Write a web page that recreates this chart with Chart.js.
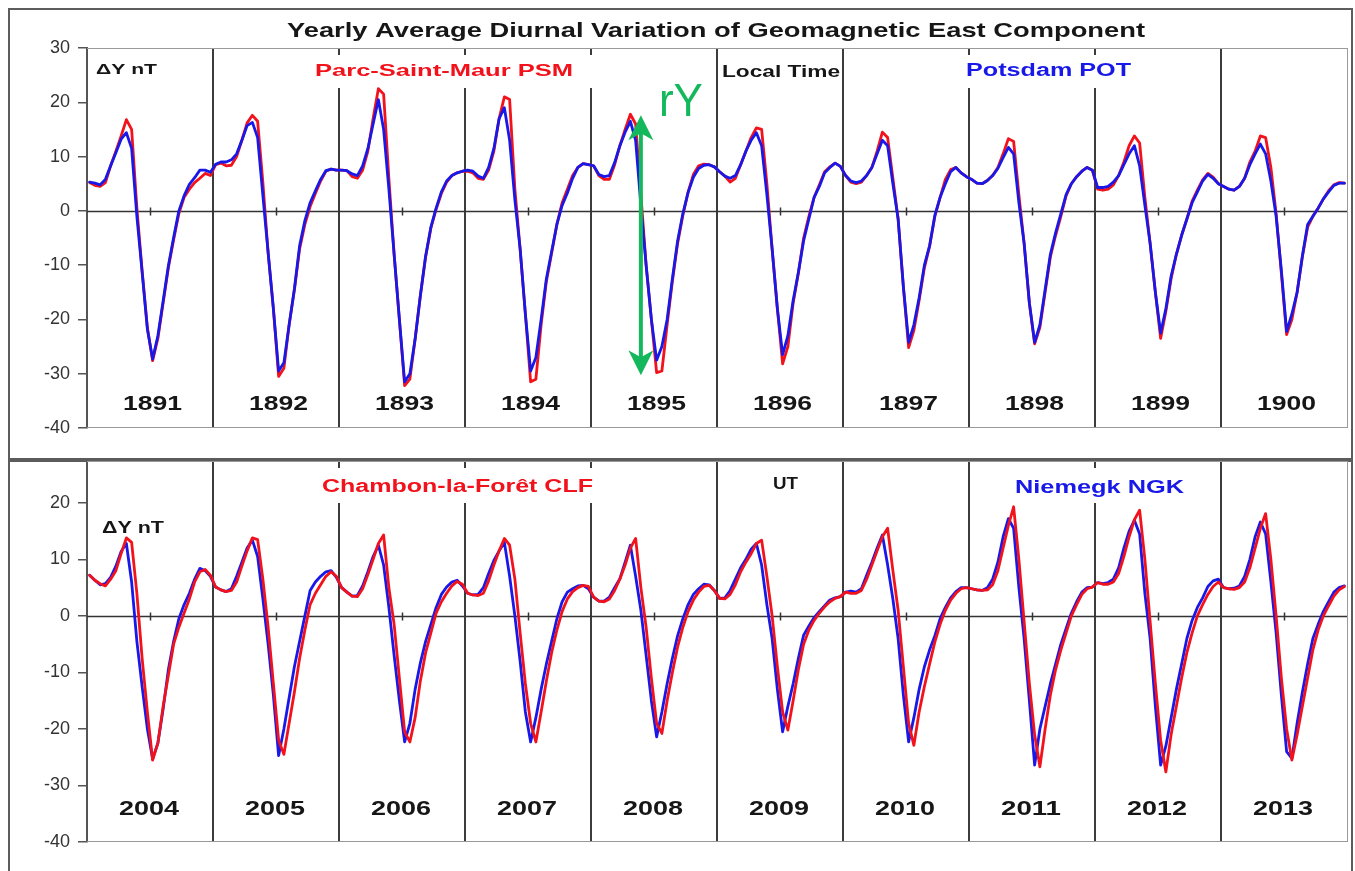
<!DOCTYPE html>
<html>
<head>
<meta charset="utf-8">
<title>Yearly Average Diurnal Variation of Geomagnetic East Component</title>
<script src="https://cdn.jsdelivr.net/npm/chart.js@4.4.1/dist/chart.umd.min.js"></script>
<style>
  html, body { margin: 0; padding: 0; background: #fff; }
  #wrap { position: relative; width: 1355px; height: 871px; overflow: hidden; }
  canvas { position: absolute; left: 0; }
  #topChart { top: 0; }
  #bottomChart { top: 460px; }
</style>
</head>
<body>
<div id="wrap">
  <canvas id="topChart" width="1355" height="460"></canvas>
  <canvas id="bottomChart" width="1355" height="411"></canvas>
</div>
<script>
const FONT = '"Liberation Sans", Arial, Helvetica, sans-serif';
const HOURS = 24;

const yearsTop = [1891, 1892, 1893, 1894, 1895, 1896, 1897, 1898, 1899, 1900];
const yearsBottom = [2004, 2005, 2006, 2007, 2008, 2009, 2010, 2011, 2012, 2013];
const yTicksTop = [-40, -30, -20, -10, 0, 10, 20, 30];
const yTicksBottom = [-40, -30, -20, -10, 0, 10, 20];

// Parc-Saint-Maur PSM, local time, hourly means (nT), one row per year
const psm = [
  5.2, 4.7, 4.5, 5.2, 8.3, 11, 13.8, 16.8, 15, 0.5, -11, -21.5, -27.6, -23.5, -17, -10.5, -5.3, -0.5, 2.5, 4, 5.2, 6, 6.9, 6.5,
  8.5, 8.8, 8.3, 8.4, 10, 13, 16.2, 17.6, 16.5, 5.2, -7.7, -18, -30.5, -29, -21, -14.6, -7, -2.5, 0.8, 3.2, 5.5, 7.3, 7.7, 7.5,
  7.5, 7.4, 6.3, 6.0, 7.5, 11, 17, 22.5, 21.5, 6, -8, -20, -32.2, -31, -23.6, -15.6, -8.5, -3.2, 0.3, 3.2, 5.3, 6.5, 7.0, 7.3,
  7.3, 7.0, 6.0, 5.8, 7.5, 11, 17, 21, 20.5, 4, -7, -19, -31.5, -31, -21, -13, -7.8, -2.5, 1.5, 4.0, 6.5, 8.0, 8.7, 8.5,
  8.3, 6.5, 5.8, 5.8, 8.5, 12, 15, 17.8, 16, 3, -10, -20, -29.8, -29.5, -21, -13, -6, -0.8, 3.5, 6.7, 8.3, 8.6, 8.5, 8.1,
  7.2, 6.4, 5.3, 6.0, 8.5, 11, 13.5, 15.3, 15, 5, -7, -18, -28.2, -25, -17, -11.5, -5, -1, 2.5, 4.8, 7.2, 8.1, 8.8, 8.2,
  6.5, 5.3, 5.0, 5.3, 6.5, 8, 11, 14.5, 13.5, 6, -1.5, -14, -25.2, -22, -16.5, -10.5, -6.5, -1, 2.5, 5.8, 7.6, 8, 7, 6.3,
  5.8, 5.1, 5.0, 5.6, 6.5, 8, 10.5, 13.3, 12.8, 3, -6, -17, -24.5, -21.5, -15, -8.5, -4.5, -1, 2.8, 5, 6.3, 7.3, 8, 7.5,
  4.0, 3.8, 4.0, 4.8, 6.5, 9, 12, 13.8, 12.5, 2.5, -6, -15, -23.5, -18.5, -12.5, -8, -4.5, -1.5, 1.8, 3.8, 5.7, 6.9, 6.2, 5,
  4.5, 4.0, 3.8, 4.5, 6, 9, 11, 13.8, 13.5, 8, -0.5, -11.5, -22.8, -20, -15, -8.5, -3, -1, 0.5, 2.2, 3.7, 4.8, 5.2, 5.1
];

// Potsdam POT, local time
const pot = [
  5.3, 5.1, 4.8, 5.8, 8.3, 10.7, 13.2, 14.4, 11.5, -1, -11.3, -21.8, -27.3, -23, -16.6, -10.1, -4.9, 0, 2.8, 4.9, 6.1, 7.5, 7.5, 7.1,
  8.6, 9.0, 9.0, 9.4, 10.5, 13, 15.7, 16.3, 13.5, 2.8, -7.7, -18, -29.5, -28, -21, -14.4, -6.4, -1.8, 1.5, 3.7, 5.8, 7.4, 7.7, 7.5,
  7.5, 7.4, 6.8, 6.5, 8.3, 11.5, 16, 20.5, 15, 4, -8, -20, -31.5, -30, -23.6, -15.6, -8.3, -3, 0.5, 3.5, 5.5, 6.5, 7.0, 7.3,
  7.5, 7.3, 6.4, 6.0, 8.0, 11.5, 17, 19.0, 13, 2, -7, -19, -29.5, -27, -20, -12.5, -7.5, -2.5, 1.0, 3.3, 6.0, 8.0, 8.7, 8.5,
  8.3, 6.7, 6.3, 6.5, 8.9, 12, 14.5, 16.5, 13, 1, -10, -20, -27.5, -25, -20, -12.5, -5.5, -0.5, 3.4, 6.2, 7.8, 8.4, 8.5, 8.1,
  7.2, 6.4, 6.0, 6.5, 8.5, 11, 13, 14.4, 12, 3, -7, -18, -26.5, -23, -16.5, -11.3, -5.5, -1.5, 2.5, 4.5, 7, 8, 8.8, 8.2,
  6.5, 5.5, 5.2, 5.5, 6.5, 8, 10.5, 13, 12, 5, -1.5, -14, -24.2, -21, -16, -10, -6.4, -0.8, 2.5, 5, 7.2, 8, 7, 6.3,
  5.8, 5.1, 5.0, 5.6, 6.5, 7.8, 9.8, 11.7, 10.5, 1.5, -6, -17, -24.2, -21, -14.5, -8, -4, -0.5, 3, 5, 6.3, 7.3, 8, 7.5,
  4.3, 4.3, 4.5, 5.3, 6.5, 8.5, 10.5, 12, 8.3, 1, -6, -15, -22.5, -18, -12, -8, -4.5, -1.5, 1.5, 3.5, 5.5, 6.7, 6, 5,
  4.5, 4.0, 3.8, 4.5, 6, 8.5, 10.5, 12.3, 10.5, 5.5, -1, -11, -22.2, -19, -15, -8.3, -2.5, -1, 0.5, 2.2, 3.5, 4.7, 5.1, 5.1
];

// Chambon-la-Foret CLF, UT
const clf = [
  7.2, 6.3, 5.7, 5.3, 6.5, 8, 11, 13.8, 13, 4, -7.5, -17, -25.5, -22.5, -16, -10.5, -5, -2, 0.5, 3, 6, 7.8, 8.2, 7.2,
  5.1, 4.6, 4.3, 4.5, 6, 8.8, 11.5, 13.8, 13.5, 6.5, -2, -12, -22, -24.5, -19, -13.5, -7.5, -2.5, 2, 4, 5.5, 7, 7.8, 7,
  5.0, 4.2, 3.5, 3.4, 4.8, 7.3, 10, 12.8, 14.3, 5, -1.5, -11, -20.5, -22.3, -18, -11.5, -6.5, -3, 0.5, 2.5, 4, 5.3, 6.1, 5.6,
  4.0, 3.7, 3.6, 4.0, 6.2, 9, 11.5, 13.7, 12.5, 6.5, -3, -12, -19, -22.3, -17, -11.5, -6.5, -2.5, 0.8, 3, 4.3, 5, 5.4, 5.2,
  3.3, 2.6, 2.5, 3.0, 4.5, 6.5, 9, 12, 13.7, 5, -2, -11, -19, -20.8, -15, -10, -5.5, -2, 0.8, 2.8, 4.2, 5.2, 5.4, 4.5,
  3.1, 3.0, 3.8, 5.5, 7.8, 9.5, 11, 12.8, 13.4, 7, 0, -9, -17, -20.2, -15, -9.5, -5, -2.5, -0.8, 0.5, 1.6, 2.5, 3.1, 3.4,
  4.2, 4.0, 4.0, 4.5, 6.5, 9, 11.5, 14, 15.5, 8, 1, -9, -19, -22.9, -17, -12.5, -8.5, -4.6, -1.5, 1, 2.8, 4, 4.8, 5,
  4.8, 4.6, 4.5, 4.6, 5.5, 8, 12, 16, 19.3, 10, -1, -12, -21, -26.7, -20, -14, -9.5, -6, -3, 0, 2, 3.8, 4.8, 5.1,
  5.9, 5.6, 5.6, 6.0, 7.5, 10.5, 14, 17, 18.7, 10, -1, -12, -22, -27.6, -21, -16, -11, -6.5, -3, 0, 2, 3.8, 5.2, 6,
  5.0, 4.8, 4.7, 5.0, 6, 8.5, 12, 15.5, 18.1, 10, 0, -11, -20, -25.5, -21, -16, -11, -6, -2.5, 0, 1.8, 3.5, 4.6, 5.2
];

// Niemegk NGK, UT
const ngk = [
  7.2, 6.3, 5.5, 5.7, 6.8, 8.8, 11.4, 12.8, 6, -4.5, -12.5, -20, -25.3, -22.5, -16.5, -9.5, -4.5, -0.5, 2, 4, 6.5, 8.4, 8, 7,
  5.1, 4.6, 4.3, 4.8, 7, 9.5, 12, 13.4, 10.5, 3, -5, -14, -24.7, -20, -14.5, -9, -4.5, 0, 4.5, 6, 7, 7.8, 8, 6.8,
  5.0, 4.2, 3.5, 3.6, 5.3, 7.8, 10.5, 12.5, 9, 1.5, -7, -15, -22.3, -19, -13, -8.3, -4.5, -1.5, 1.5, 3.8, 5.1, 6, 6.3, 5.3,
  4.0, 3.7, 3.8, 5.0, 7.5, 9.8, 11.5, 13, 7, 0, -8, -17, -22.3, -18, -13, -8.5, -4.5, -0.5, 2.5, 4.2, 4.8, 5.3, 5.4, 4.8,
  3.3, 2.6, 2.6, 3.3, 5, 6.6, 9.5, 12.5, 7, 1, -7, -15, -21.4, -17, -12, -7.5, -3.5, -0.5, 2, 3.8, 4.8, 5.6, 5.5, 4.5,
  3.1, 3.2, 4.5, 6.5, 8.5, 10, 11.8, 12.8, 9, 2, -4, -13, -20.5, -16, -12, -7.5, -3.4, -1.8, -0.3, 0.8, 1.8, 2.8, 3.2, 3.4,
  4.2, 4.4, 4.2, 4.8, 7.2, 9.5, 12, 14.3, 9, 3, -4, -14, -22.3, -18, -13, -9, -6, -3.5, -0.5, 1.5, 3.2, 4.3, 5, 5,
  4.8, 4.6, 4.5, 5, 6.5, 9.5, 14, 17.2, 15.5, 5, -4, -15, -26.4, -20, -16, -12, -8.5, -5, -2.2, 0.5, 2.5, 4.2, 5, 5.1,
  5.9, 5.7, 5.9, 6.5, 8.5, 12, 15, 16.9, 14.5, 4, -4, -16, -26.4, -23, -18, -13, -8.5, -4, -0.8, 1.5, 3.2, 5.2, 6.2, 6.5,
  5.0, 4.8, 4.9, 5.3, 7, 10, 14, 16.6, 14.5, 6, -3, -14, -24, -25.2, -19, -13.5, -8.5, -4, -1.5, 0.8, 2.5, 4.2, 5, 5.3
];

// green "rY" range marker drawn over 1895 (x in hours, y in nT)
const ryMarker = { hour: 105.5, top: 17.6, bottom: -30.3 };

const RED = 'rgb(242, 18, 28)';
const BLUE = 'rgb(24, 24, 232)';
const GREEN = '#14b85c';
const INK = '#161616';

const toPoints = values => values.map((v, i) => ({ x: i + 0.5, y: v }));

function stretchText(ctx, t) {
  ctx.save();
  ctx.font = `${t.weight || 'bold'} ${t.size}px ${FONT}`;
  const w = ctx.measureText(t.text).width;
  ctx.translate(t.left, t.cy + t.size * 0.36);
  ctx.scale(t.width / w, 1);
  ctx.fillStyle = t.color || INK;
  ctx.textAlign = 'left';
  ctx.textBaseline = 'alphabetic';
  ctx.fillText(t.text, 0, 0);
  ctx.restore();
}

const panelDecor = {
  id: 'panelDecor',
  beforeDraw(chart, args, o) {
    const ctx = chart.ctx, f = o.frame;
    ctx.save();
    ctx.strokeStyle = '#5c5c5c';
    ctx.lineWidth = 2;
    ctx.strokeRect(f.left, f.top, f.right - f.left, f.bottom - f.top);
    ctx.restore();
    if (o.title) stretchText(ctx, o.title);
  },
  beforeDatasetsDraw(chart, args, o) {
    const { ctx, chartArea: a, scales: { x, y } } = chart;
    ctx.save();
    // plot area outline (top / bottom)
    ctx.strokeStyle = '#9a9a9a';
    ctx.lineWidth = 1;
    ctx.beginPath();
    ctx.moveTo(a.left, a.top + 0.5); ctx.lineTo(a.right, a.top + 0.5);
    ctx.moveTo(a.left, a.bottom - 0.5); ctx.lineTo(a.right, a.bottom - 0.5);
    ctx.stroke();

    // zero line with a tick in the middle of every year
    const y0 = Math.round(y.getPixelForValue(0)) + 0.5;
    ctx.strokeStyle = '#333';
    ctx.lineWidth = 1.5;
    ctx.beginPath();
    ctx.moveTo(a.left, y0); ctx.lineTo(a.right, y0);
    o.years.forEach((yr, k) => {
      const xm = Math.round(x.getPixelForValue(k * HOURS + HOURS / 2)) + 0.5;
      ctx.moveTo(xm, y0 - 4); ctx.lineTo(xm, y0 + 4);
    });
    ctx.stroke();
    ctx.restore();

    // station / time labels, some on white boxes that break the year separators
    o.labels.forEach(l => {
      if (l.box) {
        ctx.fillStyle = '#fff';
        ctx.fillRect(l.box[0], l.box[1], l.box[2] - l.box[0], l.box[3] - l.box[1]);
      }
      stretchText(ctx, l);
    });

    // year names
    const yl = o.yearLabel;
    o.years.forEach((yr, k) => {
      const cx = x.getPixelForValue(k * HOURS + HOURS / 2) + yl.dx;
      stretchText(ctx, { text: String(yr), left: cx - yl.width / 2, cy: a.bottom - yl.above, size: yl.size, width: yl.width });
    });
  },
  afterDatasetsDraw(chart, args, o) {
    if (!o.marker) return;
    const { ctx, scales: { x, y } } = chart;
    const m = o.marker;
    const ax = x.getPixelForValue(m.hour);
    const at = y.getPixelForValue(m.top);
    const ab = y.getPixelForValue(m.bottom);
    ctx.save();
    ctx.strokeStyle = GREEN;
    ctx.fillStyle = GREEN;
    ctx.lineWidth = 4;
    ctx.beginPath();
    ctx.moveTo(ax, at + 16); ctx.lineTo(ax, ab - 16);
    ctx.stroke();
    const head = (tipY, dir) => {
      ctx.beginPath();
      ctx.moveTo(ax, tipY);
      ctx.lineTo(ax - 12.5, tipY + dir * 25);
      ctx.lineTo(ax, tipY + dir * 18);
      ctx.lineTo(ax + 12.5, tipY + dir * 25);
      ctx.closePath();
      ctx.fill();
    };
    head(at, 1);
    head(ab, -1);
    ctx.restore();
    stretchText(ctx, { text: 'rY', left: ax + 18, cy: at - 16, size: 46, width: 44, weight: 'normal', color: GREEN });
  }
};

function makePanel(canvasId, cfg) {
  const boundaries = cfg.years.map((yr, k) => k * HOURS).concat(cfg.years.length * HOURS);
  const lastBoundary = boundaries[boundaries.length - 1];
  return new Chart(document.getElementById(canvasId), {
    type: 'line',
    data: { datasets: cfg.datasets },
    plugins: [panelDecor],
    options: {
      responsive: false,
      animation: false,
      events: [],
      layout: { padding: cfg.padding },
      plugins: {
        legend: { display: false },
        tooltip: { enabled: false },
        panelDecor: cfg.decor
      },
      elements: { point: { radius: 0 }, line: { tension: 0 } },
      scales: {
        x: {
          type: 'linear',
          min: 0,
          max: lastBoundary,
          afterFit: s => { s.height = 0; s.paddingLeft = 0; s.paddingRight = 0; },
          afterBuildTicks: s => { s.ticks = boundaries.map(v => ({ value: v })); },
          ticks: { display: false },
          grid: {
            drawTicks: false,
            color: c => (c.tick && c.tick.value === lastBoundary) ? '#9a9a9a' : '#3c3c3c',
            lineWidth: c => (c.tick && c.tick.value === lastBoundary) ? 1 : 2
          },
          border: { display: false }
        },
        y: {
          min: cfg.yMin,
          max: cfg.yMax,
          afterFit: s => { s.width = 87; s.paddingTop = 0; s.paddingBottom = 0; },
          afterBuildTicks: s => { s.ticks = cfg.yTicks.map(v => ({ value: v })); },
          ticks: { color: '#333', font: { family: FONT, size: 18 }, padding: 8 },
          grid: { drawOnChartArea: false, tickLength: 9, color: '#555', lineWidth: 1.5 },
          border: { display: true, color: '#555', width: 2 }
        }
      }
    }
  });
}

const lineStyle = color => ({
  borderColor: color, backgroundColor: color, borderWidth: 2.8,
  borderJoinStyle: 'round', borderCapStyle: 'round', fill: false
});

makePanel('topChart', {
  years: yearsTop,
  yMin: -40, yMax: 30, yTicks: yTicksTop,
  padding: { left: 0, top: 48, right: 8, bottom: 32 },
  datasets: [
    Object.assign({ label: 'Potsdam POT', data: toPoints(pot) }, lineStyle(BLUE)),
    Object.assign({ label: 'Parc-Saint-Maur PSM', data: toPoints(psm) }, lineStyle(RED))
  ],
  decor: {
    frame: { left: 9, top: 9, right: 1352, bottom: 459 },
    title: { text: 'Yearly Average Diurnal Variation of Geomagnetic East Component', left: 287, cy: 30, size: 20.5, width: 858 },
    labels: [
      { text: 'ΔY nT', left: 96, cy: 69, size: 15, width: 61 },
      { text: 'Parc-Saint-Maur PSM', left: 315, cy: 70, size: 17, width: 258, color: RED, box: [300, 55, 600, 88] },
      { text: 'Local Time', left: 722, cy: 71, size: 16.5, width: 118 },
      { text: 'Potsdam POT', left: 966, cy: 70, size: 18, width: 165, color: BLUE, box: [950, 55, 1145, 88] }
    ],
    years: yearsTop,
    yearLabel: { dx: 2.5, above: 26, size: 21, width: 59 },
    marker: ryMarker
  }
});

makePanel('bottomChart', {
  years: yearsBottom,
  yMin: -40, yMax: 27.4, yTicks: yTicksBottom,
  padding: { left: 0, top: 1, right: 8, bottom: 29 },
  datasets: [
    Object.assign({ label: 'Chambon-la-Forêt CLF', data: toPoints(clf) }, lineStyle(RED)),
    Object.assign({ label: 'Niemegk NGK', data: toPoints(ngk) }, lineStyle(BLUE))
  ],
  decor: {
    frame: { left: 9, top: 1, right: 1352, bottom: 430 },
    labels: [
      { text: 'ΔY nT', left: 102, cy: 67.5, size: 16, width: 62 },
      { text: 'Chambon-la-Forêt CLF', left: 322, cy: 26, size: 18, width: 271, color: RED, box: [305, 8, 605, 43] },
      { text: 'UT', left: 773, cy: 23, size: 16, width: 25 },
      { text: 'Niemegk NGK', left: 1015, cy: 27, size: 18, width: 169, color: BLUE, box: [1000, 8, 1200, 43] }
    ],
    years: yearsBottom,
    yearLabel: { dx: -1, above: 34.5, size: 21, width: 60 }
  }
});
</script>
</body>
</html>
